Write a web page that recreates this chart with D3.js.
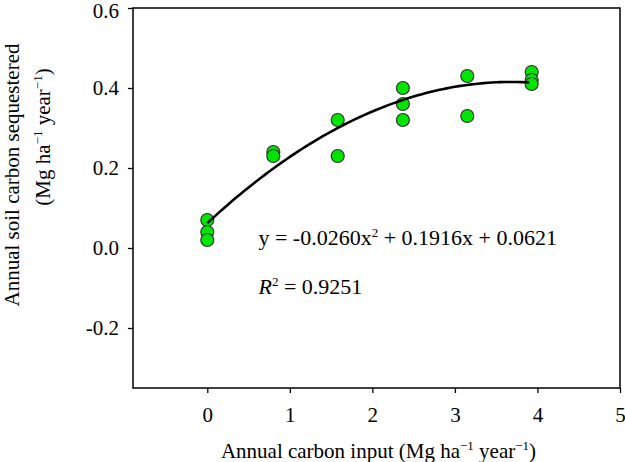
<!DOCTYPE html>
<html>
<head>
<meta charset="utf-8">
<script src="https://cdn.jsdelivr.net/npm/d3@7"></script>
<style>
  body { margin: 0; background: #fff; }
  svg text { font-family: "Liberation Serif", Tinos, "Times New Roman", "DejaVu Serif", serif !important; fill: #000; }
</style>
</head>
<body>
<div id="plot"></div>
<script>
// sampled points (carbon input, carbon sequestered)
var inputs = [0, 0, 0, 0.80, 0.80, 1.58, 1.58, 2.37, 2.37, 2.37, 3.15, 3.15, 3.93, 3.93, 3.93];
var sequestered = [0.07, 0.04, 0.02, 0.24, 0.23, 0.32, 0.23, 0.40, 0.36, 0.32, 0.43, 0.33, 0.44, 0.42, 0.41];
var coef = [-0.0260, 0.1916, 0.0621];
var xTicks = [0, 1, 2, 3, 4, 5];
var yTicks = [-0.2, 0.0, 0.2, 0.4, 0.6];

var margin = {top: 8, right: 5, bottom: 74, left: 133},
width = 625 - margin.left - margin.right,
height = 462 - margin.top - margin.bottom;

var svg = d3.select("#plot")
  .append("svg")
  .attr("width", 625)
  .attr("height", 462)
  .append("g")
  .attr("transform", "translate(" + margin.left + "," + margin.top + ")");

var x = d3.scaleLinear().domain([-0.9, 5]).range([0, width]);
var y = d3.scaleLinear().domain([-0.35, 0.6]).range([height, 0]);

var xAxis = svg.append("g")
  .attr("transform", "translate(0," + height + ")")
  .call(d3.axisBottom(x).tickValues(xTicks).tickFormat(d3.format("d")).tickSize(5).tickPadding(14).tickSizeOuter(0));
var yAxis = svg.append("g")
  .call(d3.axisLeft(y).tickValues(yTicks).tickFormat(d3.format(".1f")).tickSize(5).tickPadding(9).tickSizeOuter(0));

[xAxis, yAxis].forEach(function(a) {
  a.attr("font-family", null).attr("font-size", null);
  a.select(".domain").remove();
  a.selectAll("line").attr("stroke", "#000").attr("stroke-width", 1.3);
  a.selectAll("text").style("font-size", "21px");
});
yAxis.selectAll("text")
  .text(function(d) { return d3.format(".1f")(d).replace("−", "-"); })
  .attr("dy", function(d) { return d === 0.6 ? "0.45em" : "0.32em"; });

// frame
svg.append("rect")
  .attr("width", width).attr("height", height)
  .attr("fill", "none").attr("stroke", "#000").attr("stroke-width", 1.5);

// fitted curve
var curveX = d3.range(0, 3.93 + 0.001, 0.05);
var line = d3.line()
  .x(function(d) { return x(d); })
  .y(function(d) { return y(coef[0] * d * d + coef[1] * d + coef[2]); });

svg.append("g")
  .selectAll("circle")
  .data(inputs)
  .enter()
  .append("circle")
  .attr("cx", function(d) { return x(d); })
  .attr("cy", function(d, i) { return y(sequestered[i]); })
  .attr("r", 6.5)
  .style("fill", "#00e600")
  .style("stroke", "#333")
  .style("stroke-width", 1.2);

svg.append("path")
  .attr("d", line(curveX))
  .attr("stroke", "#000")
  .attr("stroke-width", 2.6)
  .attr("fill", "none");

// equation
var eq = svg.append("text")
  .attr("x", x(0.62)).attr("y", y(0.007))
  .style("font-size", "22px");
eq.append("tspan").text("y = -0.0260x");
eq.append("tspan").attr("dy", -8).style("font-size", "13px").text("2");
eq.append("tspan").attr("dy", 8).text(" + 0.1916x + 0.0621");

var r2 = svg.append("text")
  .attr("x", x(0.62)).attr("y", y(-0.115))
  .style("font-size", "22px");
r2.append("tspan").style("font-style", "italic").text("R");
r2.append("tspan").attr("dy", -8).style("font-size", "13px").text("2");
r2.append("tspan").attr("dy", 8).text(" = 0.9251");

// axis titles
var xt = svg.append("text")
  .attr("transform", "translate(" + (width / 2 + 2) + "," + (height + 70) + ")")
  .style("text-anchor", "middle")
  .style("font-size", "21px");
xt.append("tspan").text("Annual carbon input (Mg ha");
xt.append("tspan").attr("dy", -8).style("font-size", "13px").text("−1");
xt.append("tspan").attr("dy", 8).text(" year");
xt.append("tspan").attr("dy", -8).style("font-size", "13px").text("−1");
xt.append("tspan").attr("dy", 8).text(")");

svg.append("text")
  .attr("transform", "translate(" + (19 - margin.left) + "," + (175 - margin.top) + ") rotate(-90)")
  .style("text-anchor", "middle")
  .style("font-size", "21px")
  .text("Annual soil carbon sequestered");

var yt = svg.append("text")
  .attr("transform", "translate(" + (50 - margin.left) + "," + (137 - margin.top) + ") rotate(-90)")
  .style("text-anchor", "middle")
  .style("font-size", "21px");
yt.append("tspan").text("(Mg ha");
yt.append("tspan").attr("dy", -8).style("font-size", "13px").text("−1");
yt.append("tspan").attr("dy", 8).text(" year");
yt.append("tspan").attr("dy", -8).style("font-size", "13px").text("−1");
yt.append("tspan").attr("dy", 8).text(")");
</script>
</body>
</html>
